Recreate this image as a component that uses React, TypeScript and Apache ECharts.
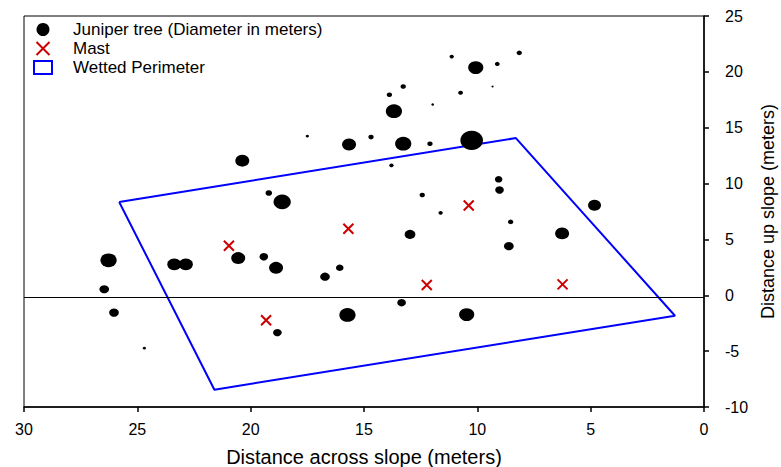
import React, { useEffect, useRef } from "react";
import * as echarts from "echarts";

// Juniper trees: [distance across slope (m), distance up slope (m), diameter (m)]
const treeX = [26.27, 26.46, 26.03, 24.69, 23.37, 22.86, 20.55, 19.42, 18.88, 18.82, 16.72, 16.07, 15.73, 13.34, 10.47, 12.97, 8.61, 8.53, 6.26, 4.83, 11.62, 12.43, 9.02, 9.06, 13.79, 18.61, 19.2, 20.37, 17.5, 15.66, 14.69, 13.27, 12.09, 10.25, 13.68, 13.88, 13.27, 11.97, 10.74, 9.33, 11.13, 10.07, 9.12, 8.15];
const treeY = [3.13, 0.54, -1.55, -4.73, 2.77, 2.77, 3.33, 3.45, 2.46, -3.34, 1.66, 2.46, -1.76, -0.66, -1.73, 5.45, 4.4, 6.57, 5.54, 8.06, 7.38, 8.98, 9.43, 10.38, 11.63, 8.36, 9.16, 12.05, 14.25, 13.5, 14.16, 13.57, 13.57, 13.87, 16.48, 17.95, 18.69, 17.08, 18.13, 18.69, 21.37, 20.38, 20.71, 21.7];
const treeDiameter = [0.94, 0.56, 0.56, 0.19, 0.81, 0.81, 0.81, 0.5, 0.81, 0.5, 0.56, 0.44, 0.94, 0.5, 0.88, 0.62, 0.56, 0.31, 0.81, 0.75, 0.25, 0.31, 0.5, 0.44, 0.25, 1.0, 0.38, 0.81, 0.19, 0.81, 0.31, 0.94, 0.31, 1.31, 0.94, 0.31, 0.31, 0.16, 0.28, 0.12, 0.25, 0.88, 0.28, 0.31];

// Masts
const mastX = [20.96, 19.32, 15.69, 12.23, 10.38, 6.24];
const mastY = [4.43, -2.23, 5.95, 0.92, 8.04, 0.98];

// Wetted perimeter polygon vertices (closed)
const perimX = [25.8, 8.3, 1.28, 21.6, 25.8];
const perimY = [8.35, 14.07, -1.83, -8.45, 8.35];

const xTicks = { min: 0, max: 30, interval: 5 };
const yTicks = { min: -10, max: 25, interval: 5 };
const zeroLineY = -0.2;

const PX_PER_M = 16;
const FONT = "'Liberation Sans', Arial, sans-serif";
const X_PATH = "path://M0,0L10,10M10,0L0,10";

export default function App() {
  const ref = useRef<HTMLDivElement>(null);
  useEffect(() => {
    if (!ref.current) return;
    const chart = echarts.init(ref.current, null, { renderer: "svg" });
    const trees = treeX.map((x, i) => [x, treeY[i], treeDiameter[i]]);
    const masts = mastX.map((x, i) => [x, mastY[i]]);
    const perim = perimX.map((x, i) => [x, perimY[i]]);
    chart.setOption({
      animation: false,
      backgroundColor: "#fff",
      textStyle: { fontFamily: FONT },
      grid: {
        left: 24,
        right: 77,
        top: 16,
        bottom: 60,
        show: true,
        borderColor: "#000",
        borderWidth: 1,
        outerBoundsMode: "none",
        containLabel: false,
      },
      legend: {
        orient: "vertical",
        left: 33,
        top: 21,
        padding: 0,
        itemWidth: 18,
        itemHeight: 13,
        itemGap: 2,
        selectedMode: false,
        textStyle: { fontSize: 17, color: "#000", fontFamily: FONT, padding: [0, 0, 0, 16] },
        data: [
          { name: "Juniper tree (Diameter in meters)", icon: "circle", itemStyle: { color: "#000", opacity: 1 } },
          {
            name: "Mast",
            icon: X_PATH,
            itemStyle: { color: "transparent", borderColor: "#cc0000", borderWidth: 2 },
          },
          {
            name: "Wetted Perimeter",
            icon: "rect",
            itemStyle: { color: "transparent", borderColor: "#0000ff", borderWidth: 2 },
          },
        ],
      },
      xAxis: {
        type: "value",
        inverse: true,
        min: xTicks.min,
        max: xTicks.max,
        interval: xTicks.interval,
        position: "bottom",
        name: "Distance across slope (meters)",
        nameLocation: "middle",
        nameGap: 40,
        nameTextStyle: { fontSize: 20, color: "#000", fontFamily: FONT },
        axisLine: { show: true, onZero: false, lineStyle: { color: "#000", width: 1.5 } },
        axisTick: { show: true, inside: false, length: 5, lineStyle: { color: "#000", width: 1.5 } },
        axisLabel: { fontSize: 16, color: "#000", margin: 14, fontFamily: FONT },
        splitLine: { show: false },
      },
      yAxis: {
        type: "value",
        position: "right",
        min: yTicks.min,
        max: yTicks.max,
        interval: yTicks.interval,
        name: "Distance up slope (meters)",
        nameLocation: "middle",
        nameRotate: 90,
        nameGap: 55,
        nameTextStyle: { fontSize: 18, color: "#000", fontFamily: FONT },
        axisLine: { show: true, onZero: false, lineStyle: { color: "#000", width: 1.5 } },
        axisTick: { show: true, inside: false, length: 5, lineStyle: { color: "#000", width: 1.5 } },
        axisLabel: { fontSize: 16, color: "#000", margin: 21, align: "left", fontFamily: FONT },
        splitLine: { show: false },
      },
      series: [
        {
          name: "Juniper tree (Diameter in meters)",
          type: "scatter",
          data: trees,
          symbol: "circle",
          symbolSize: (v: number[]) => [v[2] * PX_PER_M * 1.08, v[2] * PX_PER_M * 0.92],
          itemStyle: { color: "#000", opacity: 1 },
          z: 3,
        },
        {
          name: "Mast",
          type: "scatter",
          data: masts,
          symbol: X_PATH,
          symbolSize: 10,
          itemStyle: { color: "transparent", borderColor: "#cc0000", borderWidth: 2, opacity: 1 },
          z: 4,
        },
        {
          name: "Wetted Perimeter",
          type: "line",
          data: perim,
          showSymbol: false,
          symbol: "none",
          lineStyle: { color: "#0000ff", width: 2 },
          itemStyle: { color: "#0000ff" },
          z: 2,
          markLine: {
            silent: true,
            symbol: "none",
            label: { show: false },
            lineStyle: { color: "#000", width: 1, type: "solid" },
            data: [{ yAxis: zeroLineY }],
          },
        },
      ],
    });
    return () => chart.dispose();
  }, []);
  return <div ref={ref} style={{ width: 781, height: 467, position: "absolute", left: 0, top: 0 }} />;
}
